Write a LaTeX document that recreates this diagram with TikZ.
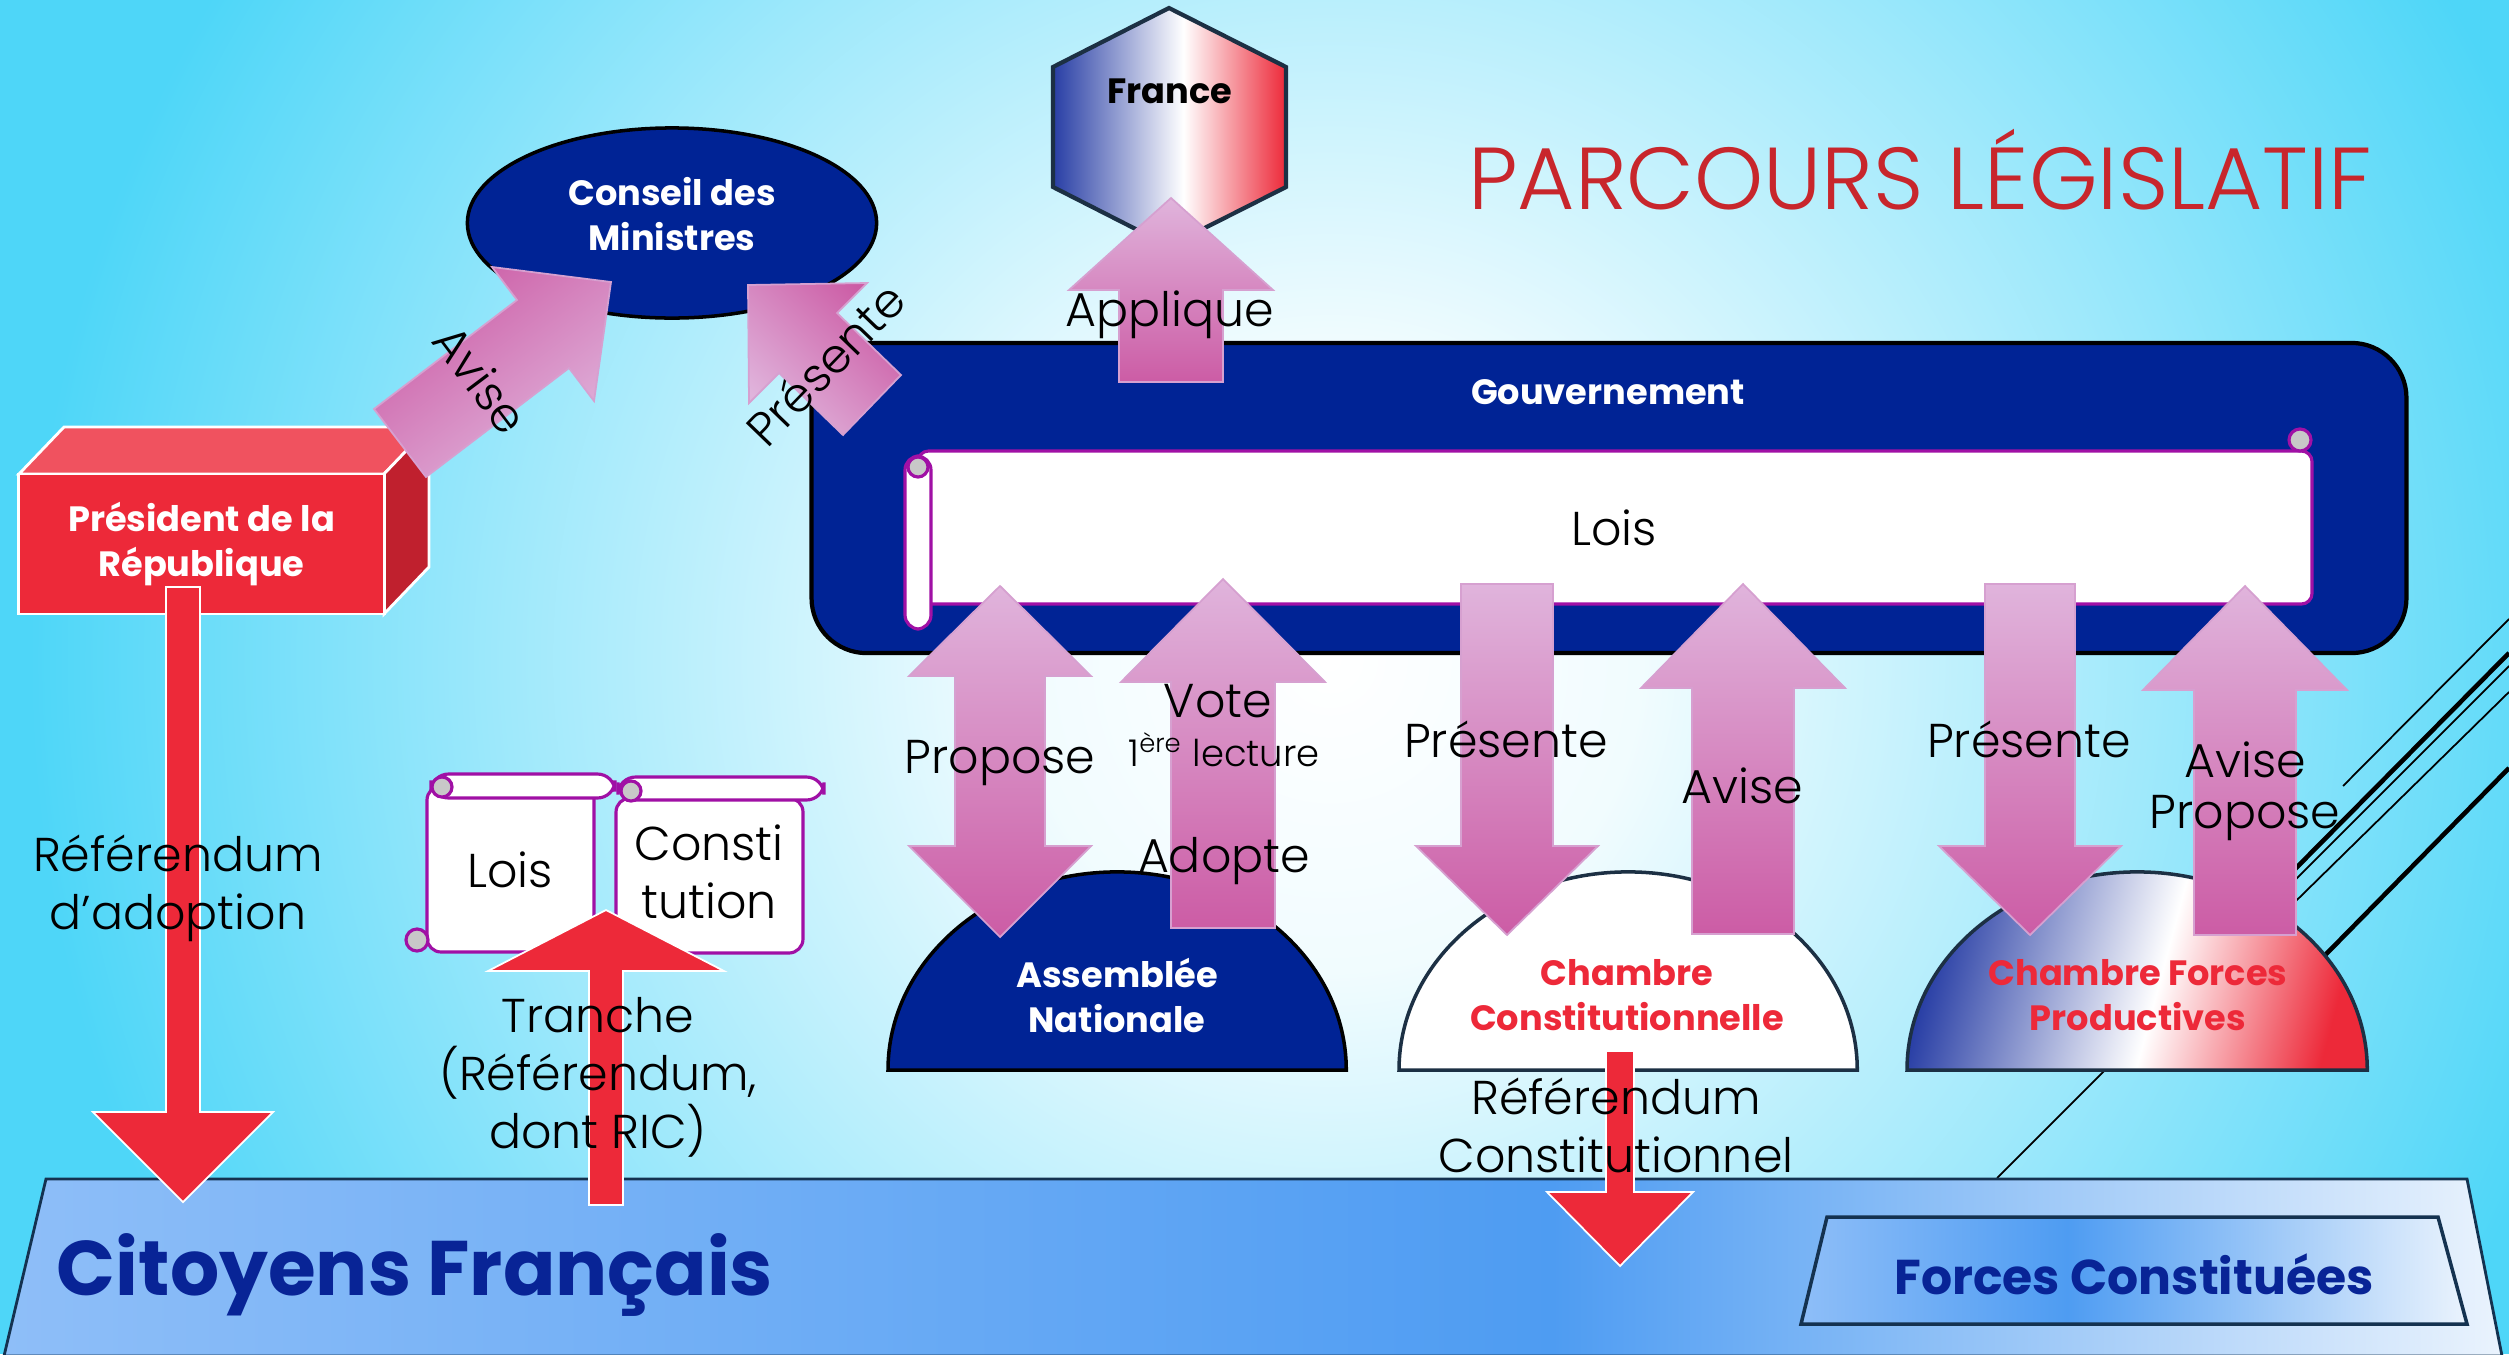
\documentclass[tikz,border=0pt]{standalone}
\usepackage{fontspec}
\setmainfont{Poppins}
\IfFontExistsTF{Poppins Light}{\newfontfamily\lightfont{Poppins Light}}{\newfontfamily\lightfont{Poppins}}
\usepackage{tikz}
\usetikzlibrary{shapes.geometric,positioning}
\definecolor{navy}{RGB}{0,35,149}
\definecolor{flagred}{RGB}{237,41,57}
\definecolor{flagblue}{RGB}{40,62,165}
\definecolor{pinklight}{RGB}{224,180,220}
\definecolor{pinkdark}{RGB}{204,92,165}
\definecolor{pinkedge}{RGB}{214,160,208}
\definecolor{scrollpurple}{RGB}{160,16,165}
\definecolor{curlgray}{RGB}{200,200,200}
\definecolor{bgcyan}{RGB}{78,214,248}
\colorlet{bgpale}{white!92!bgcyan}
\colorlet{bghalf}{white!45!bgcyan}
\definecolor{titlered}{RGB}{200,38,44}
\definecolor{citblue}{RGB}{8,36,150}
\definecolor{bandlight}{RGB}{142,190,248}
\definecolor{bandmid}{RGB}{78,156,242}
\definecolor{bandpale}{RGB}{234,243,253}
\definecolor{bandedge}{RGB}{20,50,80}
\definecolor{boxtop}{RGB}{240,82,95}
\definecolor{boxside}{RGB}{192,32,46}
\definecolor{hexedge}{RGB}{28,48,68}
\pgfdeclareradialshading{bgglow}{\pgfpoint{0bp}{0bp}}{color(0bp)=(white); color(6bp)=(bgpale); color(16bp)=(bghalf); color(25bp)=(bgcyan); color(50bp)=(bgcyan)}
\pgfdeclarehorizontalshading{bandshade}{100bp}{color(0bp)=(bandlight); color(25bp)=(bandlight); color(56bp)=(bandmid); color(75bp)=(bandpale); color(100bp)=(bandpale)}
\pgfdeclarehorizontalshading{forceshade}{100bp}{color(0bp)=(bandlight); color(25bp)=(bandlight); color(45bp)=(bandmid); color(75bp)=(bandpale); color(100bp)=(bandpale)}
\pgfdeclarehorizontalshading{tricolor}{100bp}{color(0bp)=(flagblue); color(25bp)=(flagblue); color(53bp)=(white); color(75bp)=(flagred); color(100bp)=(flagred)}

\begin{document}
\begin{tikzpicture}[x=0.01cm,y=-0.01cm,inner sep=0pt]
\tikzstyle{lbl}=[font=\lightfont\fontsize{13.5}{16.5}\selectfont, align=center]
\tikzstyle{boldlbl}=[font=\bfseries\fontsize{10}{12.8}\selectfont, align=center, text=white]
\tikzstyle{pinkarrow}=[top color=pinklight, bottom color=pinkdark, draw=pinkedge, line width=0.5pt]
\tikzstyle{redarrow}=[fill=flagred, draw=white, line width=0.5pt]
\tikzstyle{scroll}=[fill=white, draw=scrollpurple, line width=0.9pt]
\tikzstyle{curl}=[fill=curlgray, draw=scrollpurple, line width=0.9pt]
\tikzstyle{dome}=[line width=1pt]
\useasboundingbox (0,0) rectangle (2509,1354);
\begin{scope}
\clip (0,0) rectangle (2509,1354);
\fill[bgcyan] (0,0) rectangle (2509,1354);
\shade[shading=bgglow] (1330,660) circle (13cm);
\end{scope}
\draw[line width=0.5pt] (2343,786) -- (2509,619);
\draw[line width=1.3pt] (2200,965) -- (2509,653);
\draw[line width=0.5pt] (1997,1178) -- (2509,666);
\draw[line width=0.5pt] (2250,946) -- (2509,692);
\draw[line width=1.3pt] (2280,1001) -- (2509,768);
\shadedraw[shading=bandshade, draw=bandedge, line width=0.8pt] (46,1179) -- (2467,1179) -- (2502,1356) -- (4,1356) -- cycle;
\shadedraw[shading=forceshade, draw=bandedge, line width=1pt] (1827,1217) -- (2438,1217) -- (2467,1324) -- (1801,1324) -- cycle;
\node[font=\bfseries\fontsize{22}{26}\selectfont, text=citblue] (cf) at (415,1275) {Citoyens Français};
\node[font=\bfseries\fontsize{13.9}{16}\selectfont, text=citblue] (fc) at (2134,1274) {Forces Constituées};
\node[font=\lightfont\fontsize{25}{30}\selectfont, text=titlered, anchor=base] (pl) at (1920,209) {PARCOURS LÉGISLATIF};
\shadedraw[shading=tricolor, draw=hexedge, line width=1.2pt] (1053,67) -- (1169,8) -- (1286,67) -- (1286,187) -- (1169,246) -- (1053,187) -- cycle;
\node[boldlbl, text=black] (fr) at (1170,91) {France};
\node[ellipse, fill=navy, draw=black, line width=1pt, minimum width=4.09cm, minimum height=1.9cm] (cm) at (672,223) {};
\node[boldlbl] (cmt) at (672,214) {Conseil des\\Ministres};
\path[fill=boxtop, draw=white, line width=0.8pt] (19,474) -- (64,427) -- (429,427) -- (384,474) -- cycle;
\path[fill=boxside, draw=white, line width=0.8pt] (384,474) -- (429,427) -- (429,567) -- (384,614) -- cycle;
\node[boldlbl, fill=flagred, draw=white, line width=0.8pt, minimum width=3.65cm, minimum height=1.4cm] (pr) at (201.5,544) {Président de la\\République};
\node[rectangle, rounded corners=0.55cm, fill=navy, draw=black, line width=1.2pt, minimum width=15.94cm, minimum height=3.1cm] (gv) at (1609,498) {};
\node[boldlbl] (gvt) at (1608,392) {Gouvernement};
\path[scroll, rounded corners=3pt] (918,451) rectangle (2312,604);
\path[scroll, rounded corners=4pt] (905,456) rectangle (931,629);
\path[curl] (918,467) circle (0.1cm);
\path[curl] (2300,440) circle (0.11cm);
\node[lbl] (lg) at (1614,528) {Lois};
\path[dome, fill=navy, draw=black] (888,1070) arc[start angle=180, end angle=0, x radius=2.29cm, y radius=1.98cm] -- cycle;
\path[dome, fill=white, draw=hexedge] (1399,1070) arc[start angle=180, end angle=0, x radius=2.29cm, y radius=1.98cm] -- cycle;
\shadedraw[dome, shading=tricolor, shading angle=-15, draw=hexedge] (1907,1070) arc[start angle=180, end angle=0, x radius=2.3cm, y radius=1.98cm] -- cycle;
\node[boldlbl] (an) at (1117,995) {Assemblée\\Nationale};
\node[boldlbl, text=flagred] (cc) at (1627,995) {Chambre\\Constitutionnelle};
\node[boldlbl, text=flagred] (cp) at (2138,995) {Chambre Forces\\Productives};
\path[scroll, rounded corners=4pt] (427,786) rectangle (594,952);
\path[curl] (417,940) circle (0.11cm);
\path[scroll, rounded corners=5pt] (431,774) rectangle (615,798);
\path[curl] (442,787) circle (0.1cm);
\path[scroll, rounded corners=4pt] (616,798) rectangle (803,953);
\path[scroll, rounded corners=5pt] (618,777) rectangle (824,800);
\path[curl] (631,791) circle (0.1cm);
\node[lbl] (ls) at (510,870) {Lois};
\node[lbl] (cs) at (709,872) {Consti\\tution};
\path[pinkarrow] (1119,382) -- (1119,290) -- (1069,290) -- (1171,198) -- (1273,290) -- (1223,290) -- (1223,382) -- cycle;
\path[pinkarrow, top color=pinkdark, bottom color=pinklight, shading angle=37] (374,409) -- (517,300) -- (492,267) -- (611,282) -- (594,401) -- (569,368) -- (426,477) -- cycle;
\path[pinkarrow, top color=pinkdark, bottom color=pinklight, shading angle=-44] (901,375) -- (837,313) -- (867,283) -- (748,285) -- (749,403) -- (779,373) -- (843,435) -- cycle;
\path[pinkarrow] (1000,586) -- (1091,676) -- (1045,676) -- (1045,846) -- (1091,846) -- (1000,937) -- (909,846) -- (955,846) -- (955,676) -- (909,676) -- cycle;
\path[pinkarrow] (1171,928) -- (1171,682) -- (1121,682) -- (1223,579) -- (1325,682) -- (1275,682) -- (1275,928) -- cycle;
\path[pinkarrow] (1461,584) -- (1553,584) -- (1553,846) -- (1598,846) -- (1507,935) -- (1416,846) -- (1461,846) -- cycle;
\path[pinkarrow] (1692,934) -- (1692,688) -- (1641,688) -- (1743,584) -- (1845,688) -- (1794,688) -- (1794,934) -- cycle;
\path[pinkarrow] (1985,584) -- (2075,584) -- (2075,846) -- (2121,846) -- (2030,935) -- (1939,846) -- (1985,846) -- cycle;
\path[pinkarrow] (2194,935) -- (2194,690) -- (2143,690) -- (2245,586) -- (2347,690) -- (2296,690) -- (2296,935) -- cycle;
\path[redarrow] (166,587) -- (200,587) -- (200,1112) -- (273,1112) -- (183,1202) -- (93,1112) -- (166,1112) -- cycle;
\path[redarrow] (589,1205) -- (589,971) -- (488,971) -- (606,910) -- (724,971) -- (623,971) -- (623,1205) -- cycle;
\path[redarrow] (1606,1051) -- (1634,1051) -- (1634,1192) -- (1693,1192) -- (1620,1266) -- (1547,1192) -- (1606,1192) -- cycle;
\node[lbl] (ap) at (1170,315) {Applique};
\node[lbl, rotate=-53] (av0) at (481,379) {Avise};
\node[lbl, rotate=46] (ps0) at (825,364) {Présente};
\node[lbl] (pp1) at (1000,763) {Propose};
\node[lbl] (vt) at (1218,701) {Vote};
\node[lbl, font=\lightfont\fontsize{10.5}{12}\selectfont] (lc) at (1224,750) {1\textsuperscript{ère} lecture};
\node[lbl] (ad) at (1224,861) {Adopte};
\node[lbl] (ps1) at (1506,739) {Présente};
\node[lbl] (av1) at (1742,786) {Avise};
\node[lbl] (ps2) at (2029,739) {Présente};
\node[lbl] (av2) at (2245,760) {Avise};
\node[lbl] (pp2) at (2245,818) {Propose};
\node[lbl] (ra) at (178,888) {Référendum\\d’adoption};
\node[lbl] (tr) at (598,1077) {Tranche\\(Référendum,\\dont RIC)};
\node[lbl] (rc) at (1616,1125) {Référendum\\Constitutionnel};
\end{tikzpicture}
\end{document}
